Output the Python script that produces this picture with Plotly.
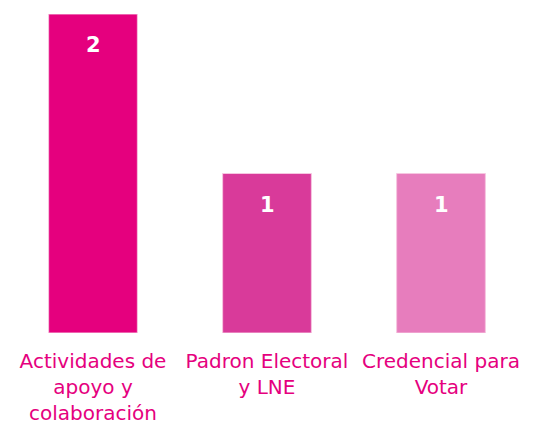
import plotly.graph_objects as go

categories = ["Actividades de<br>apoyo y<br>colaboración", "Padron Electoral<br>y LNE", "Credencial para<br>Votar"]
values = [2, 1, 1]
colors = ["#E5007E", "#D93A9A", "#E77DBD"]

fig = go.Figure()
fig.add_trace(go.Bar(
    x=categories, y=values,
    marker=dict(color=colors, line=dict(color="#F6C6E0", width=1)),
    width=0.51,
    hoverinfo="skip",
))
for c, v in zip(categories, values):
    fig.add_annotation(x=c, y=v, text=f"<b>{v}</b>", showarrow=False,
                       yshift=-31, font=dict(color="white", size=21, family="DejaVu Sans"))

fig.update_layout(
    width=533, height=424,
    margin=dict(l=6, r=5, t=14, b=91),
    paper_bgcolor="white", plot_bgcolor="white",
    showlegend=False,
    font=dict(family="DejaVu Sans", color="#E5007E"),
    xaxis=dict(showgrid=False, showline=False, zeroline=False, automargin=False,
               ticklabelstandoff=14,
               tickfont=dict(size=20, color="#E5007E", family="DejaVu Sans"), ticks=""),
    yaxis=dict(visible=False, range=[0, 2], automargin=False),
)
fig.write_html("out.html", config={"displayModeBar": False},
               post_script="document.body.style.margin='0';")
